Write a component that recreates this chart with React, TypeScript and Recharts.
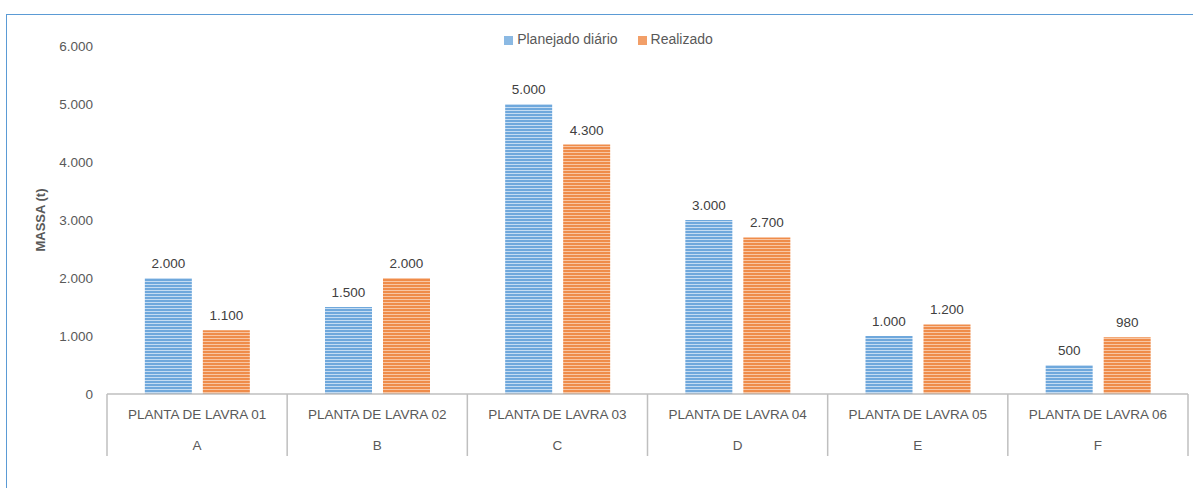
import React from "react";
import { BarChart, Bar, XAxis, YAxis, Legend, LabelList } from "recharts";

const plants = [
  "PLANTA DE LAVRA 01",
  "PLANTA DE LAVRA 02",
  "PLANTA DE LAVRA 03",
  "PLANTA DE LAVRA 04",
  "PLANTA DE LAVRA 05",
  "PLANTA DE LAVRA 06",
];
const groups = ["A", "B", "C", "D", "E", "F"];
const planned = [2000, 1500, 5000, 3000, 1000, 500];
const actual = [1100, 2000, 4300, 2700, 1200, 980];
const yTicks = [0, 1000, 2000, 3000, 4000, 5000, 6000];

const data = plants.map((p, i) => ({
  plant: p,
  group: groups[i],
  planned: planned[i],
  actual: actual[i],
}));

const FONT = "'Liberation Sans', Arial, sans-serif";
const TEXT = "#595959";
const AXIS = "#BFBFBF";

// 1.500 style thousands separator
function fmt(v: any) {
  const n = Math.round(Number(v));
  return String(n).replace(/\B(?=(\d{3})+(?!\d))/g, ".");
}

function CategoryTick(props: any) {
  const { x, y, payload, index, visibleTicksCount } = props;
  const half = payload.offset || 0;
  const i = payload.index ?? index;
  const row = data[i];
  const last = i === (visibleTicksCount ?? data.length) - 1;
  return (
    <g>
      <line x1={x - half} y1={y} x2={x - half} y2={y + 62} stroke={AXIS} strokeWidth={1.5} />
      {last && <line x1={x + half} y1={y} x2={x + half} y2={y + 62} stroke={AXIS} strokeWidth={1.5} />}
      <text x={x} y={y + 25} textAnchor="middle" fill={TEXT} fontSize={13.5} fontFamily={FONT}>
        {row ? row.plant : payload.value}
      </text>
      <text x={x} y={y + 56} textAnchor="middle" fill={TEXT} fontSize={13.5} fontFamily={FONT}>
        {row ? row.group : ""}
      </text>
    </g>
  );
}

export default function App() {
  return (
    <div style={{ position: "absolute", left: 0, top: 0, width: 1193, height: 488, background: "#fff", overflow: "hidden" }}>
      <div
        style={{
          position: "absolute",
          left: 6,
          top: 14,
          width: 1200,
          height: 500,
          border: "1px solid #5B9BD5",
        }}
      />
      <div style={{ position: "absolute", left: 0, top: 0 }}>
        <BarChart
          width={1193}
          height={488}
          data={data}
          margin={{ top: 30, right: 5, left: 47, bottom: 30 }}
          barCategoryGap="21%"
          barGap={11}
        >
          <defs>
            <pattern id="stripeBlue" width="4" height="3" patternUnits="userSpaceOnUse">
              <rect width="4" height="3" fill="#6FA8DC" />
              <rect y="2" width="4" height="1" fill="#C5DCF2" />
            </pattern>
            <pattern id="stripeOrange" width="4" height="3" patternUnits="userSpaceOnUse">
              <rect width="4" height="3" fill="#EF8C4A" />
              <rect y="2" width="4" height="1" fill="#F8C6A4" />
            </pattern>
          </defs>
          <XAxis
            dataKey="plant"
            interval={0}
            height={64}
            tickSize={0}
            tickMargin={0}
            tickLine={false}
            axisLine={{ stroke: AXIS, strokeWidth: 1.5 }}
            tick={<CategoryTick />}
          />
          <YAxis
            domain={[0, 6000]}
            ticks={yTicks}
            width={60}
            tickSize={0}
            tickMargin={14}
            axisLine={false}
            tickLine={false}
            tickFormatter={fmt}
            tick={{ fill: TEXT, fontSize: 13.5, fontFamily: FONT }}
            label={{
              value: "MASSA (t)",
              angle: -90,
              position: "insideLeft",
              dx: -12,
              dy: 0,
              style: { fill: TEXT, fontSize: 13, fontWeight: "bold", fontFamily: FONT, textAnchor: "middle" },
            }}
          />
          <Legend
            verticalAlign="top"
            align="center"
            iconType="square"
            iconSize={9}
            wrapperStyle={{ top: 31, left: 22, width: 1193, fontFamily: FONT, fontSize: 14, lineHeight: "16px" }}
            formatter={(value: any) => <span style={{ color: TEXT, marginRight: 10 }}>{value}</span>}
          />
          <Bar dataKey="planned" name="Planejado diário" fill="url(#stripeBlue)" legendType="square" isAnimationActive={false}>
            <LabelList dataKey="planned" position="top" offset={10} formatter={fmt} fill="#404040" fontSize={13.5} fontFamily={FONT} />
          </Bar>
          <Bar dataKey="actual" name="Realizado" fill="url(#stripeOrange)" legendType="square" isAnimationActive={false}>
            <LabelList dataKey="actual" position="top" offset={10} formatter={fmt} fill="#404040" fontSize={13.5} fontFamily={FONT} />
          </Bar>
        </BarChart>
      </div>
    </div>
  );
}
